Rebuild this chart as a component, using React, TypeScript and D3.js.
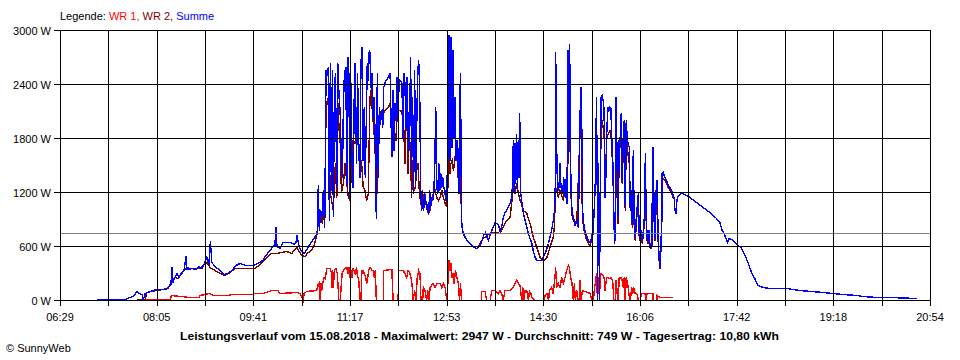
import React from "react";
import * as d3 from "d3";

// time axis: minutes of the day
const dayStart = 389.5; // 06:29:30
const dayEnd = 1254.5; // 20:54:30
const timeLabels = ["06:29", "08:05", "09:41", "11:17", "12:53", "14:30", "16:06", "17:42", "19:18", "20:54"];
const yTicks = [0, 600, 1200, 1800, 2400, 3000];
const average = 749;
const titleText = "Leistungsverlauf vom 15.08.2018 - Maximalwert: 2947 W - Durchschnitt: 749 W - Tagesertrag: 10,80 kWh";
const legendItems = [
  { label: "WR 1,", color: "#ff0000" },
  { label: "WR 2,", color: "#800000" },
  { label: "Summe", color: "#0000ff" },
];

// [minute of day, watts]
const summe: [number, number][] = [
  [426.2,10],[454.2,10],[459.2,30],[463.2,60],[466.2,100],[468.2,80],[471.2,70],[472.2,5],[474.2,80],[479.2,95],[485.8,120],[493.8,125],[496.8,150],[499.8,180],[500.8,370],[501.8,200],[503.8,260],[505.8,300],[507.8,260],[509.8,300],[512.8,330],[514.8,490],[515.8,350],[520.8,360],[524.8,350],[527.8,380],[530.5,360],[533.5,420],[535.5,480],[537.5,400],[539,655],[540.5,420],[543.5,380],[547.5,340],[552.5,290],[556.5,300],[560.5,330],[564.5,390],[568.5,410],[574.5,390],[581.2,390],[586.2,410],[591.2,450],[594.2,500],[598.2,560],[601.2,600],[603.2,615],[604.2,815],[605.2,600],[608.2,580],[611.2,640],[615.2,650],[619.2,640],[622.2,620],[624.2,650],[625.2,720],[627.2,600],[629,560],[632,520],[635,570],[638,620],[641,680],[644,720],[645.5,750],
  [646.3,1280],[647.3,780],[648.7,1000],[650,930],[651.3,1220],[652.7,815],[654,2555],[655.3,2520],[656.3,2590],[657.3,890],[658.3,2630],[659.3,1220],[660.3,2555],[661.3,930],[662.3,2300],[663.3,2520],[664.7,1260],[665.7,2630],[667,2260],[668,2110],[669.3,1520],[670.3,1370],[671.3,2185],[672.3,2520],[673.7,2590],[674.7,1300],[675.7,2700],[676.7,2520],[677.7,1150],[678.7,2410],[679.7,1600],[681,1260],[682,2220],[683,2630],[684.4,1520],[685.4,2520],[686.4,1700],[687.7,1370],[688.7,2630],[689.7,2815],[690.7,1555],[692,2150],[693,1370],[694,1960],[695,2630],[696,2445],[697,2780],[698,2740],[699,2330],[700,2520],[701,2000],[702,2260],[703,1670],[704,910],[705,2520],[706,1370],[707,2150],[708,1960],[709.4,2110],[710.4,1925],[711.4,2370],[712.7,2425],[714.4,2460],[716,2480],[717.7,2520],
  [719.4,1600],[720.4,2330],[721.4,1670],[722.4,2185],[723.4,2000],[724.4,2480],[725.7,2040],[726.7,2460],[728.1,2445],[729.4,2410],[730.7,1815],[731.7,2520],[732.7,2370],[733.7,1925],[734.7,2480],[735.7,1850],[736.7,1670],[738.1,2700],[739.1,1445],[740.1,2260],[741.1,1185],[742.1,2555],[743.1,1300],[744.1,1890],[745.1,2520],[746.1,2670],[747.1,2370],[748.1,1260],[749.1,1000],[750.1,1150],[751.1,1000],[752.1,1185],[753.1,1110],[754.1,1075],[755.1,1000],[756.1,965],[757.1,1220],[758.1,1040],[759.1,1150],[760.1,1110],[761.1,1185],[762.1,1480],[763.1,2150],[764.1,1260],[765.1,1185],[766.1,1520],[767.1,1220],[768.1,1410],[769.1,1260],[770.1,1370],[771.1,1260],[772.1,1220],[773.1,1110],[774.1,1260],[775.1,1600],[776.1,2945],[777.1,1555],[778.1,2925],[779.1,1700],[780.1,2780],[781.1,1815],[782.1,2260],[783.1,1555],[784.1,1780],[785.1,1600],[786.1,1185],[786.7,2110],[787.7,2520],[788.7,890],[789.7,780],[791.4,725],[794.1,670],[797.4,630],[800.7,585],[804.1,575],[806.7,600],[809.1,670],[810.7,725],[812.4,760],
  [815.4,670],[818.8,780],[822.1,870],[825.4,850],[826.9,780],[828.6,815],[830.2,925],[831.9,980],[833.6,1000],[835.2,1040],[836.9,1075],[838.6,1150],[839.6,1335],[840.2,1780],[840.9,1220],[841.9,1740],[842.6,1300],[843.6,1850],[844.2,1220],[845.2,1780],[845.9,1370],[846.6,2075],[847.2,1220],[848.2,1150],[849.2,1040],[850.2,965],[851.9,890],[853.6,815],[855.2,740],[856.9,685],[858.6,630],[860.2,540],[861.9,480],[863.6,445],[866.9,440],[868.9,455],[870.9,500],[872.9,555],[875.2,630],[876.6,705],[878.3,780],[879.9,890],[881.3,1000],[881.9,1260],[882.3,2760],[882.9,2260],[883.6,1480],[884.6,1220],[885.6,1260],[886.6,1520],[887.6,1260],[889.3,1185],[890.3,1370],[890.9,1260],[891.9,1150],[892.9,1370],[893.6,1075],[894.6,2780],[895.3,1600],[895.9,2850],[896.6,2520],[897.3,1445],[897.9,1110],[898.9,965],[899.9,930],[901.6,835],[903.3,890],[904.9,815],
  [906.6,2075],[907.6,2370],[908.3,1925],[909.3,965],[910.6,815],[912.3,740],[913.6,705],[914.9,670],[916.6,650],[918.3,705],[919.6,740],[920.9,1075],[921.9,1370],[922.9,2260],[923.6,1370],[923.9,0],[924.9,1520],[925.9,0],[926.5,1040],[927.5,2260],[928.5,2280],[929.5,2220],[930.5,2110],[931.2,1150],[932.2,1370],[933.2,1890],[934.2,2150],[935.2,2110],[936.2,2150],[937.2,2130],[938.2,1780],[939.2,1520],[940.2,930],[940.9,630],[941.5,705],[942.5,2260],[943.5,1445],[944.5,930],[945.5,1780],[946.5,1815],[947.5,2075],[948.5,1335],[949.5,1815],[950.5,2000],[951.5,1040],[952.5,2000],[953.5,1780],[954.5,1740],[955.5,1700],[956.5,1000],[957.5,1220],[958.5,855],[959.5,1670],[960.5,815],[961.5,705],[962.5,925],[964.5,1185],[965.5,705],[966.5,815],[967.5,740],[968.5,670],[969.5,780],[970.5,925],[971.5,1630],[972.2,1000],[973.2,705],[974.2,670],[975.2,780],[975.9,630],[976.9,590],[977.9,630],[978.9,1700],[979.6,1445],[980.2,925],[981.2,705],[982.2,1220],[983.2,1335],[984.2,705],[985.2,480],[985.9,370],[986.6,480],[987.2,705],[987.9,925],[988.2,1410],[989.2,1425],[990.9,1370],[992.6,1335],[994.2,1280],[995.9,1260],[997.6,1220],[999.2,1165],[1000.2,1130],[1000.9,1000],[1001.9,965],[1002.9,1110],[1004.2,1165],[1007.6,1185],[1010.9,1180],
  [1015.8,1150],[1022.5,1093],[1028.9,1037],[1035.6,982],[1042.3,908],[1045.6,870],[1047.9,778],[1049.9,740],[1051.6,685],[1053.3,650],[1054.9,685],[1057.3,675],[1060.6,650],[1063.9,610],[1067.3,575],[1070.6,500],[1073.9,408],[1077,315],[1080.3,240],[1083.6,168],[1088.6,150],[1095.3,138],[1112,130],[1125.1,112],[1148.1,93],[1168.1,68],[1181.5,57],[1188.1,46],[1201.5,38],[1214.8,30],[1241.3,20],
];

const wr2: [number, number][] = [
  [465.9,8],[474.2,8],[475.9,93],[485.5,112],[497.1,130],[500.5,222],[503.8,260],[507.1,240],[510.5,297],[515.5,370],[518.8,352],[528.8,352],[533.5,408],[535.8,426],[538.5,370],[543.5,334],[548.5,297],[553.5,278],[558.5,315],[563.5,352],[568.5,360],[578.5,352],[583.2,352],[589.9,408],[594.9,482],[599.9,519],[604.9,519],[609.9,537],[614.9,548],[619.9,519],[624.9,593],[629.7,500],[633,489],[636.3,537],[639.7,555],[641.3,590],[643,650],[644.7,725],[646.3,855],[648,890],[649,925],[650.3,855],[651.7,965],[653,925],
  [654,2185],[655.3,2220],[656.7,2150],[658,1220],[659,1150],[660,1075],[661.3,1000],[662.3,1300],[663.3,1520],[664.7,1150],[665.7,2200],[667,1900],[668,1800],[669.3,1200],[671.3,1300],[673,1520],[674.7,1300],[676.3,1150],[677.7,1110],[681,1780],[682.7,1740],[684.4,1890],[687.7,1600],[689.4,1520],[691,1260],[692.7,1220],[694.4,1110],[696,1185],[697.7,2260],[698.7,2330],[700.4,2040],[701.7,1890],[703,1600],[704,930],[705,1445],[707.7,2075],[709.4,2110],[711,2075],[712.7,2110],[714.4,2130],[716,2150],[717.7,2185],
  [719.4,1780],[720.4,2150],[721.7,1890],[723.4,1780],[725,2110],[726.7,2110],[728.4,2110],[730.1,2040],[731.4,1890],[732.4,1520],[733.4,2150],[734.7,1890],[735.7,1410],[736.7,1890],[738.1,1600],[739.1,1150],[740.1,1555],[741.4,1220],[742.7,1260],[744.1,1445],[745.4,1520],[746.7,1220],[748.1,1075],[749.1,1040],[750.1,1220],[750.7,1040],[752.1,1150],[753.4,1075],[754.7,1000],[756.1,965],[757.4,1000],[759.1,1110],[760.7,1185],[762.4,1220],[764.1,1150],[765.7,1110],[767.4,1150],[769.1,1220],[770.7,1150],[772.4,1075],[774.1,1040],[775.1,1260],[776.1,1600],[777.1,1410],[778.1,1520],[779.4,1555],[780.7,1445],[782.4,1600],[784.1,1740],[785.1,1445],[786.1,1185],[786.7,1260],[787.7,1520],[788.7,890],[789.7,780],
  [794.1,670],[797.4,630],[800.7,585],[804.1,575],[805.7,600],[807.1,630],[810.4,685],[813.8,725],[817.1,740],[820.4,760],[823.8,760],[826.9,740],[830.2,815],[833.6,890],[836.9,925],[838.6,1075],[840.2,1260],[841.9,1185],[843.6,1300],[845.2,1185],[846.9,1110],[848.2,1075],[850.2,1000],[853.6,965],[856.9,855],[860.2,705],[863.6,590],[866.9,480],[870.2,445],[873.6,480],[876.6,590],[879.9,705],[881.3,855],[881.6,1075],[882.3,1260],[883.3,1220],[884.9,1150],[886.6,1220],[889.9,1110],[891.6,1300],[893.3,1220],[894.6,1890],[895.3,1520],[895.9,2445],[896.6,2185],[897.3,1445],[897.9,1040],[898.9,925],[899.9,890],[903.3,855],
  [906.6,1890],[907.6,2075],[908.9,925],[910.6,780],[912.3,705],[914.9,630],[916.6,610],[918.3,685],[920.9,1040],[921.9,1370],[922.9,1370],[923.6,1370],[923.9,0],[924.9,1370],[925.9,0],[926.5,1040],[927.5,1960],[928.5,2000],[929.5,1925],[930.5,1890],[931.2,1150],[932.2,1520],[933.2,1815],[934.2,1850],[936.2,1890],[937.2,1870],[938.2,1670],[939.2,1445],[940.2,930],[940.9,630],[941.5,705],[942.5,1445],[943.5,1150],[944.5,855],[945.5,1700],[946.5,1700],[947.5,1815],[948.5,1300],[949.5,1700],[950.5,1780],[951.5,1000],[952.5,1815],[953.5,1700],[954.5,1600],[955.5,1520],[956.5,1000],[957.5,1185],[958.5,815],[959.5,1445],[960.5,780],[961.5,670],[962.5,855],[964.5,1150],[965.5,670],[966.5,780],[967.5,705],[968.5,630],[969.5,740],[970.5,855],[971.5,1150],[972.2,925],[973.2,670],[974.2,630],[975.2,705],[975.9,590],[976.9,575],[977.9,590],[978.9,1150],[980.2,890],[981.2,670],[982.2,1075],[983.2,1220],[984.2,670],[985.2,445],[985.9,355],[986.6,445],[987.2,670],[987.9,890],[988.2,1370],[990.9,1335],[992.6,1300],[994.2,1260],[995.9,1220],[997.6,1185],[999.2,1150],
];

const wr1: [number, number][] = [
  [465.9,5],[485.5,10],[498.8,10],[500.5,55],[518.8,30],[527.8,30],[528.8,55],[538.5,75],[541.5,55],[555.5,55],[561.5,65],[581.2,65],[583.2,75],[591.2,75],[600.2,110],[606.2,110],[608.2,80],[625.2,90],[628,75],[629.7,40],[631.3,0],[632.3,75],[634.7,95],[644.7,115],[645.7,170],[647,190],[648,0],[649,190],[649.7,115],[650.7,190],[652,260],[653.3,245],[654.7,355],[658,355],[659.3,315],[660,150],[660.7,335],[661.3,150],[662.3,335],[663.7,355],[665.3,300],[666.7,0],[668,0],[669,150],[670,300],[671.3,335],[673,355],[674.7,370],[675.7,300],[676.7,370],[677.7,260],[678.7,335],[679.7,260],[681,355],[682,335],[683,300],[684.4,370],[685.4,260],[686.4,260],[687.7,0],[688.7,0],[689.7,335],[691,335],[692,300],[693.4,260],[694.4,190],[695.4,260],[696.4,335],[697.7,370],[698.7,355],[699.7,335],[701,335],[702,260],[703,335],[704,0],[711,0],[711.1,335],[719.4,345],[720.7,0],[725.7,0],[726,335],[730.7,335],[732.4,300],[734.1,260],[735.7,335],[737.4,300],[738.4,260],[739.4,190],[740.7,0],[742.1,115],[743.4,0],[744.7,260],[746.1,335],[747.4,300],[748.4,0],[750.1,0],[750.7,150],[752.4,115],[754.1,0],[755.1,115],[756.7,0],[757.4,150],[760.1,190],[762.4,150],[764.1,190],[767.4,190],[769.1,150],[770.7,190],[772.4,150],[774.1,0],[775.1,190],[776.1,450],[777.1,335],[778.1,410],[779.1,260],[780.1,300],[781.4,190],[782.7,335],[784.1,260],[785.7,190],[786.7,0],[787.7,190],[788.7,0],
  [808.4,0],[808.8,95],[812.1,95],[813.8,0],[817.1,0],[818.8,115],[822.1,115],[825.4,75],[826.9,115],[828.6,75],[830.2,0],[831.9,115],[836.9,115],[840.2,150],[841.9,190],[843.6,225],[845.2,190],[846.9,170],[848.6,0],[849.6,150],[850.9,0],[851.9,115],[853.6,115],[855.2,0],[856.2,95],[857.6,75],[858.6,35],[861.9,0],[870.2,0],[871.9,55],[873.6,75],[875.2,0],[876.2,115],[878.3,150],[879.9,75],[881.6,260],[882.3,370],[883.3,150],[884.9,190],[886.6,150],[888.3,260],[889.9,190],[891.6,260],[893.3,335],[894.9,390],[895.9,370],[897.3,260],[898.6,190],[899.9,0],[900.9,190],[901.9,0],[903.3,115],[904.3,0],[905.6,0],[906.6,225],[907.6,0],[908.9,115],[911.6,95],[916.6,75],[918.3,0],[919.9,0],[920.9,150],[921.9,190],[922.9,300],[923.9,0],[924.9,260],[925.9,0],[926.5,260],[927.5,300],[929.5,280],[930.5,260],[931.2,115],[932.2,190],[933.2,260],[936.2,245],[937.9,260],[939.2,190],[940.2,0],[941.5,0],[942.5,225],[943.5,75],[944.5,0],[945.5,260],[946.5,245],[947.9,260],[949.5,150],[950.5,260],[951.5,0],[952.5,260],[953.9,190],[955.5,40],[956.5,0],[957.9,150],[958.9,75],[959.9,150],[961.2,75],[962.9,75],[963.9,40],[964.5,0],[966.2,0],[967.9,75],[971.2,75],[972.2,0],[973.2,75],[979.2,75],[979.3,0],[982.9,0],[983,55],[985.9,35],[999.2,35],
];

const FONT = "'Liberation Sans', Arial, Helvetica, sans-serif";

export default function App() {
  const width = 960;
  const height = 360;
  const left = 60;
  const right = 930;
  const top = 30;
  const bottom = 300;

  const x = d3.scaleLinear().domain([dayStart, dayEnd]).range([left, right]);
  const y = d3.scaleLinear().domain([0, 3000]).range([bottom, top]);
  const line = d3
    .line<[number, number]>()
    .x((d) => x(d[0]))
    .y((d) => Math.round(y(d[1])) + 0.5);

  const nGrid = 18;
  const gridTimes = d3.range(nGrid + 1).map((i) => dayStart + (i * (dayEnd - dayStart)) / nGrid);
  const px = (v: number) => Math.round(v) + 0.5;
  const sw = 1.4;

  return (
    <svg
      width={width}
      height={height}
      style={{ position: "absolute", left: 0, top: 0, background: "#fff" }}
      fontFamily={FONT}
    >
      <rect x={0} y={0} width={width} height={height} fill="#fff" />

      {/* data */}
      <path d={line(wr1) || ""} fill="none" stroke="#ff0000" strokeWidth={sw} strokeLinejoin="miter" shapeRendering="crispEdges" />
      <path d={line(wr2) || ""} fill="none" stroke="#800000" strokeWidth={sw} strokeLinejoin="miter" shapeRendering="crispEdges" />
      <path d={line(summe) || ""} fill="none" stroke="#0000ff" strokeWidth={sw} strokeLinejoin="miter" shapeRendering="crispEdges" />

      {/* grid */}
      <g shapeRendering="crispEdges">
        <line x1={left} x2={right} y1={px(y(average))} y2={px(y(average))} stroke="#808080" strokeWidth={1} />
        {yTicks.map((t) => (
          <line key={"h" + t} x1={left - 6} x2={right + 1} y1={px(y(t))} y2={px(y(t))} stroke="#000" strokeWidth={1} />
        ))}
        {gridTimes.map((t, i) => (
          <line key={"v" + i} x1={px(x(t))} x2={px(x(t))} y1={top} y2={bottom + 6} stroke="#000" strokeWidth={1} />
        ))}
      </g>

      {/* y labels */}
      {yTicks.map((t) => (
        <text key={"yl" + t} x={51} y={Math.round(y(t)) + 4.5} textAnchor="end" fontSize={11} fill="#000">
          {t + " W"}
        </text>
      ))}

      {/* x labels */}
      {timeLabels.map((lab, i) => (
        <text key={"xl" + i} x={x(gridTimes[i * 2])} y={321} textAnchor="middle" fontSize={11} fill="#000">
          {lab}
        </text>
      ))}

      {/* legend */}
      <text x={60} y={20} fontSize={11} fill="#000">
        <tspan>Legende: </tspan>
        {legendItems.map((it, i) => (
          <tspan key={i} fill={it.color}>
            {(i > 0 ? " " : "") + it.label}
          </tspan>
        ))}
      </text>

      {/* title */}
      <text
        x={180}
        y={340}
        fontSize={11.5}
        fontWeight="bold"
        fill="#000"
        textLength={599}
        lengthAdjust="spacingAndGlyphs"
      >
        {titleText}
      </text>

      <text x={6} y={352} fontSize={11} fill="#000">
        © SunnyWeb
      </text>
    </svg>
  );
}
